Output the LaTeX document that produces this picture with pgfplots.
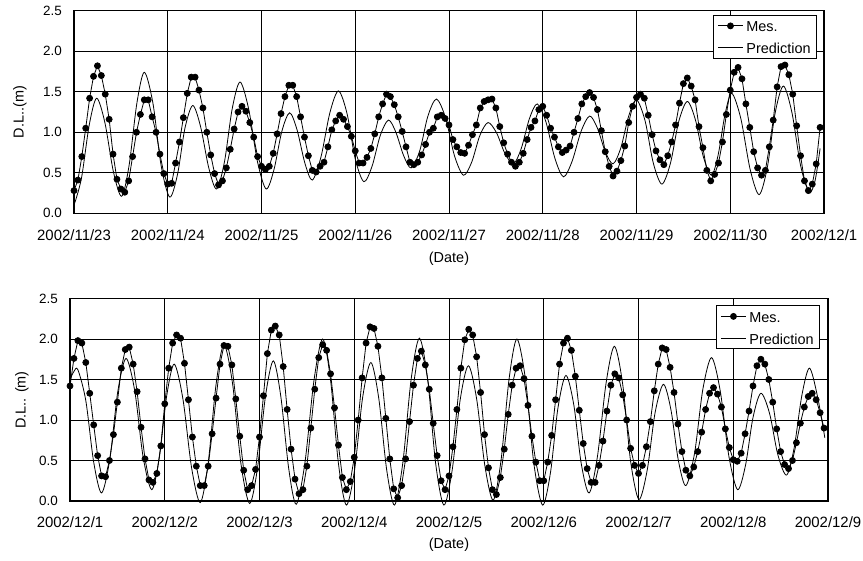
\documentclass[border=0pt]{standalone}
\usepackage{fontspec}
\setmainfont{Liberation Sans}
\usepackage{pgfplots}
\pgfplotsset{compat=1.18}
\usepackage{pgfplotstable}

\pgfplotstableread[row sep=\\]{
v\\ 0.28\\ 0.41\\ 0.70\\ 1.05\\ 1.42\\ 1.69\\ 1.82\\ 1.70\\ 1.47\\ 1.16\\ 0.73\\ 0.42\\ 0.30\\ 0.26\\ 0.40\\ 0.70\\ 1.00\\ 1.22\\ 1.40\\ 1.40\\ 1.19\\ 1.00\\ 0.73\\ 0.49\\
0.36\\ 0.37\\ 0.62\\ 0.88\\ 1.18\\ 1.48\\ 1.68\\ 1.68\\ 1.52\\ 1.30\\ 1.00\\ 0.72\\ 0.49\\ 0.35\\ 0.40\\ 0.56\\ 0.79\\ 1.04\\ 1.25\\ 1.32\\ 1.26\\ 1.12\\ 0.94\\ 0.70\\
0.58\\ 0.54\\ 0.58\\ 0.74\\ 0.98\\ 1.23\\ 1.44\\ 1.58\\ 1.58\\ 1.44\\ 1.19\\ 0.94\\ 0.71\\ 0.53\\ 0.51\\ 0.58\\ 0.63\\ 0.82\\ 1.03\\ 1.14\\ 1.21\\ 1.16\\ 1.07\\ 0.95\\
0.77\\ 0.62\\ 0.62\\ 0.69\\ 0.80\\ 0.98\\ 1.19\\ 1.35\\ 1.47\\ 1.44\\ 1.34\\ 1.19\\ 1.01\\ 0.82\\ 0.63\\ 0.60\\ 0.63\\ 0.72\\ 0.85\\ 1.00\\ 1.05\\ 1.19\\ 1.21\\ 1.17\\
1.09\\ 0.91\\ 0.82\\ 0.75\\ 0.74\\ 0.84\\ 0.97\\ 1.09\\ 1.30\\ 1.38\\ 1.40\\ 1.41\\ 1.30\\ 1.07\\ 0.87\\ 0.73\\ 0.63\\ 0.58\\ 0.63\\ 0.74\\ 0.91\\ 1.06\\ 1.14\\ 1.28\\
1.32\\ 1.21\\ 1.05\\ 0.94\\ 0.82\\ 0.75\\ 0.78\\ 0.83\\ 1.00\\ 1.17\\ 1.35\\ 1.44\\ 1.49\\ 1.43\\ 1.28\\ 1.02\\ 0.76\\ 0.58\\ 0.46\\ 0.52\\ 0.65\\ 0.83\\ 1.12\\ 1.32\\
1.43\\ 1.47\\ 1.42\\ 1.21\\ 0.97\\ 0.77\\ 0.66\\ 0.60\\ 0.71\\ 0.88\\ 1.09\\ 1.36\\ 1.60\\ 1.67\\ 1.57\\ 1.40\\ 1.07\\ 0.81\\ 0.53\\ 0.40\\ 0.48\\ 0.62\\ 0.88\\ 1.22\\
1.52\\ 1.74\\ 1.80\\ 1.66\\ 1.35\\ 1.06\\ 0.76\\ 0.56\\ 0.47\\ 0.53\\ 0.82\\ 1.15\\ 1.56\\ 1.81\\ 1.83\\ 1.71\\ 1.47\\ 1.08\\ 0.71\\ 0.40\\ 0.28\\ 0.36\\ 0.61\\ 1.06\\
}\mesA

\pgfplotstableread[row sep=\\]{
v\\ 1.42\\ 1.76\\ 1.98\\ 1.95\\ 1.71\\ 1.33\\ 0.94\\ 0.56\\ 0.31\\ 0.30\\ 0.50\\ 0.82\\ 1.22\\ 1.64\\ 1.87\\ 1.90\\ 1.69\\ 1.35\\ 0.91\\ 0.52\\ 0.26\\ 0.23\\ 0.34\\ 0.68\\
1.20\\ 1.64\\ 1.95\\ 2.05\\ 2.01\\ 1.70\\ 1.25\\ 0.79\\ 0.43\\ 0.19\\ 0.19\\ 0.43\\ 0.83\\ 1.27\\ 1.69\\ 1.92\\ 1.91\\ 1.68\\ 1.26\\ 0.80\\ 0.38\\ 0.14\\ 0.19\\ 0.39\\
0.79\\ 1.30\\ 1.82\\ 2.11\\ 2.16\\ 2.05\\ 1.66\\ 1.13\\ 0.64\\ 0.27\\ 0.09\\ 0.14\\ 0.43\\ 0.90\\ 1.38\\ 1.77\\ 1.93\\ 1.86\\ 1.57\\ 1.15\\ 0.69\\ 0.29\\ 0.14\\ 0.24\\
0.54\\ 1.00\\ 1.52\\ 1.95\\ 2.15\\ 2.13\\ 1.91\\ 1.52\\ 1.02\\ 0.52\\ 0.15\\ 0.04\\ 0.19\\ 0.52\\ 0.98\\ 1.43\\ 1.76\\ 1.85\\ 1.68\\ 1.38\\ 0.96\\ 0.56\\ 0.25\\ 0.14\\
0.31\\ 0.67\\ 1.13\\ 1.64\\ 1.99\\ 2.12\\ 2.05\\ 1.78\\ 1.34\\ 0.82\\ 0.41\\ 0.14\\ 0.08\\ 0.29\\ 0.64\\ 1.07\\ 1.43\\ 1.64\\ 1.67\\ 1.51\\ 1.18\\ 0.80\\ 0.48\\ 0.25\\
0.25\\ 0.48\\ 0.81\\ 1.25\\ 1.69\\ 1.95\\ 2.01\\ 1.86\\ 1.54\\ 1.12\\ 0.71\\ 0.40\\ 0.23\\ 0.23\\ 0.44\\ 0.74\\ 1.11\\ 1.43\\ 1.57\\ 1.52\\ 1.31\\ 1.00\\ 0.65\\ 0.44\\
0.34\\ 0.44\\ 0.67\\ 0.98\\ 1.36\\ 1.69\\ 1.89\\ 1.87\\ 1.65\\ 1.34\\ 0.95\\ 0.61\\ 0.38\\ 0.31\\ 0.42\\ 0.61\\ 0.85\\ 1.13\\ 1.33\\ 1.40\\ 1.32\\ 1.16\\ 0.89\\ 0.66\\
0.51\\ 0.49\\ 0.59\\ 0.83\\ 1.11\\ 1.42\\ 1.67\\ 1.75\\ 1.69\\ 1.50\\ 1.22\\ 0.89\\ 0.61\\ 0.45\\ 0.40\\ 0.50\\ 0.72\\ 0.96\\ 1.16\\ 1.29\\ 1.33\\ 1.25\\ 1.09\\ 0.90\\
}\mesB

\pgfplotsset{
  tide/.style={
    scale only axis,
    xmin=0, xmax=192, ymin=0, ymax=2.5,
    xtick={0,24,...,192},
    ytick={0,0.5,1,1.5,2,2.5},
    yticklabels={0.0,0.5,1.0,1.5,2.0,2.5},
    grid=major,
    major grid style={black, line width=0.8bp},
    major tick length=0pt,
    axis line style={black, line width=1.2bp},
    xticklabel style={font=\fontsize{15}{15}\selectfont, anchor=base, inner sep=0pt, yshift=-27bp},
    yticklabel style={font=\fontsize{13.5}{13.5}\selectfont, anchor=east, inner sep=0pt, xshift=-12bp},
    legend image code/.code={\draw[mark repeat=2,mark phase=2,##1] plot coordinates {(0bp,0bp) (12.5bp,0bp) (25bp,0bp)};},
    legend style={at={(rel axis cs:1,1)}, anchor=north east, draw=black, line width=0.8bp, fill=white,
      font=\fontsize{14.5}{14.5}\selectfont, inner xsep=4.5bp, inner ysep=2bp,
      nodes={inner sep=1.5bp, text height=13bp, text depth=1bp}, row sep=5bp, column sep=1.5bp},
    legend cell align=left,
  },
  mes/.style={black, line width=0.8bp, mark=*, mark size=3bp, mark options={fill=black, solid}},
  pred/.style={black, line width=0.8bp, smooth, no markers},
}

\begin{document}
\begin{tikzpicture}
\useasboundingbox (0,0) rectangle (863bp,561bp);

\begin{axis}[tide, width=750bp, height=202.6bp, at={(74bp,347.7bp)}, anchor=south west,
  xticklabels={2002/11/23,2002/11/24,2002/11/25,2002/11/26,2002/11/27,2002/11/28,2002/11/29,2002/11/30,2002/12/1},
  legend style={xshift=-7bp, yshift=-4.3bp}]
\addplot[mes] table[x expr=\coordindex, y=v] {\mesA};
\addlegendentry{Mes.}
\addplot[pred] coordinates {
(0,0.10) (1.9,0.43) (3.9,1.09) (5.8,1.42) (7.9,1.12) (10.1,0.51) (12.2,0.21) (14.1,0.59) (16.1,1.36) (18,1.74)
(20.2,1.36) (22.3,0.59) (24.5,0.20) (26.5,0.48) (28.4,1.05) (30.4,1.33) (32.4,1.07) (34.5,0.56) (36.5,0.30) (38.5,0.63)
(40.5,1.29) (42.5,1.62) (44.7,1.29) (47,0.63) (49.2,0.30) (51.2,0.54) (53.2,1.01) (55.2,1.24) (57.1,1.03) (59.1,0.62)
(61,0.41) (63.2,0.69) (65.5,1.24) (67.7,1.51) (69.9,1.23) (72,0.67) (74.2,0.39) (76.3,0.58) (78.4,0.96) (80.5,1.15)
(82.4,1.00) (84.4,0.71) (86.3,0.56) (88.5,0.77) (90.6,1.20) (92.8,1.41) (95.1,1.18) (97.4,0.71) (99.7,0.47) (101.8,0.63)
(103.9,0.96) (106,1.12) (108.2,0.99) (110.3,0.74) (112.5,0.61) (114.5,0.80) (116.6,1.17) (118.6,1.35) (120.8,1.13) (123.1,0.68)
(125.3,0.45) (127.5,0.64) (129.8,1.01) (132,1.20) (134,1.05) (136,0.76) (138,0.61) (140,0.81) (142,1.20) (144,1.40)
(146.2,1.14) (148.3,0.62) (150.5,0.36) (152.7,0.62) (154.8,1.13) (157,1.38) (159.1,1.15) (161.1,0.70) (163.2,0.47) (164.9,0.72)
(166.7,1.23) (168.4,1.48) (170.7,1.17) (173.1,0.54) (175.4,0.23) (177.5,0.57) (179.5,1.24) (181.6,1.57) (183.8,1.24) (186,0.59)
(188.2,0.26) (189.7,0.40) (191,0.80)
};
\addlegendentry{Prediction}
\end{axis}

\begin{axis}[tide, width=758bp, height=202.5bp, at={(70bp,60bp)}, anchor=south west, clip=false,
  xticklabels={2002/12/1,2002/12/2,2002/12/3,2002/12/4,2002/12/5,2002/12/6,2002/12/7,2002/12/8,2002/12/9},
  legend style={xshift=-8bp, yshift=-7bp}]
\addplot[mes] table[x expr=\coordindex, y=v] {\mesB};
\addlegendentry{Mes.}
\addplot[pred] coordinates {
(0,1.50) (1,1.60) (2,1.62) (4,1.24) (6,0.48) (8,0.10) (10.1,0.52) (12.1,1.35) (14.2,1.76) (16.4,1.36)
(18.5,0.55) (20.7,0.14) (22.6,0.53) (24.5,1.30) (26.4,1.69) (28.6,1.26) (30.8,0.41) (33,-0.02) (35,0.47) (37,1.44)
(39,1.93) (41.2,1.44) (43.3,0.46) (45.5,-0.03) (47.5,0.41) (49.5,1.29) (51.5,1.73) (53.4,1.29) (55.4,0.40) (57.3,-0.04)
(59.5,0.47) (61.8,1.49) (64,2.00) (66,1.49) (68,0.46) (70,-0.05) (72.1,0.39) (74.1,1.27) (76.2,1.71) (78.2,1.27)
(80.2,0.39) (82.2,-0.05) (84.3,0.47) (86.4,1.50) (88.5,2.01) (90.6,1.50) (92.6,0.47) (94.7,-0.05) (96.8,0.38) (98.8,1.24)
(100.9,1.67) (103,1.26) (105.1,0.43) (107.2,0.01) (109.2,0.51) (111.2,1.50) (113.2,2.00) (115.4,1.49) (117.5,0.46) (119.7,-0.05)
(121.7,0.35) (123.6,1.15) (125.6,1.55) (127.6,1.19) (129.5,0.46) (131.5,0.10) (133.6,0.55) (135.8,1.46) (137.9,1.91) (140,1.44)
(142,0.49) (144.1,0.02) (146.2,0.38) (148.2,1.09) (150.3,1.44) (152.2,1.13) (154.1,0.50) (156,0.19) (158.2,0.59) (160.3,1.38)
(162.5,1.77) (164.7,1.36) (166.9,0.55) (169.1,0.14) (171.1,0.44) (173,1.03) (175,1.33) (177.2,1.08) (179.3,0.57) (181.5,0.32)
(183.4,0.65) (185.4,1.31) (187.3,1.64) (189.3,1.30) (191.2,0.78)
};
\addlegendentry{Prediction}
\end{axis}

\node[rotate=90, anchor=base, font=\fontsize{14.5}{14.5}\selectfont] at (23.5bp,449bp) {D.L..(m)};
\node[rotate=90, anchor=base, font=\fontsize{14.5}{14.5}\selectfont] at (25.5bp,161bp) {D.L.. (m)};
\node[anchor=base, font=\fontsize{14.5}{14.5}\selectfont] at (449bp,298bp) {(Date)};
\node[anchor=base, font=\fontsize{14.5}{14.5}\selectfont] at (449bp,13bp) {(Date)};
\end{tikzpicture}
\end{document}
